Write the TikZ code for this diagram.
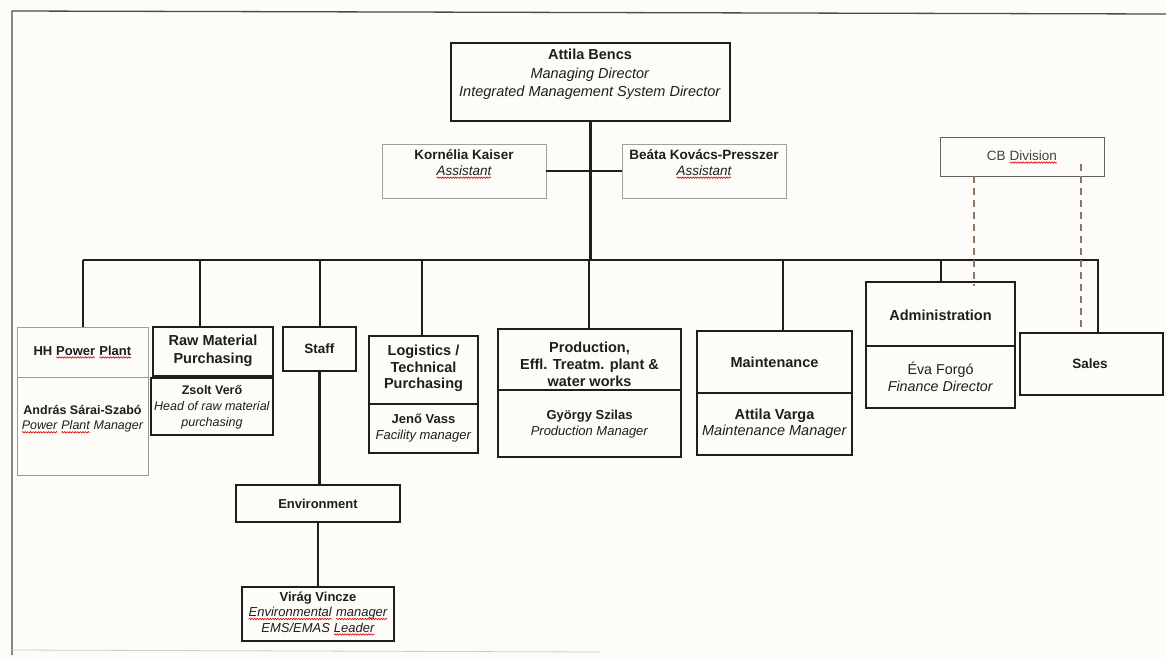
\documentclass[tikz,border=0pt]{standalone}
\usepackage{fontspec}
\setmainfont{Liberation Sans}
\usetikzlibrary{decorations.pathmorphing}
\definecolor{paper}{HTML}{FDFCF8}
\definecolor{ink}{HTML}{1E1E1E}
\definecolor{faint}{HTML}{A0A0A0}
\definecolor{dashc}{HTML}{8C7866}
\newcommand\fz[2]{\fontsize{#1}{#2}\selectfont}
\newcommand\sq[1]{\tikz[baseline=(sqw.base)]{\node[inner sep=0pt,outer sep=0pt](sqw){#1};\draw[red!85!black,line width=0.6pt,decorate,decoration={snake,amplitude=0.7pt,segment length=2.6pt}]([yshift=-2.4pt]sqw.base west)--([yshift=-2.4pt]sqw.base east);}}
\tikzset{
  box/.style={draw=ink, line width=1.5pt, fill=paper, inner sep=0pt, rectangle},
  lbox/.style={draw=faint, line width=0.9pt, fill=paper, inner sep=0pt, rectangle},
  txt/.style={align=center, inner sep=0pt, text=ink},
  link/.style={draw=ink, line width=2.6pt},
  dlink/.style={draw=dashc, line width=2.4pt, dash pattern=on 7pt off 5pt},
}
\begin{document}
\begin{tikzpicture}[x=1pt,y=-1pt]
\useasboundingbox (0,0) rectangle (1166,662);
\fill[paper] (0,0) rectangle (1166,662);
% frame
\draw[ink!80,line width=1.3pt] (1166,14) -- (12,11) -- (12,655);
\draw[black!20,line width=0.8pt] (12,650) -- (600,652);

% boxes
\node[box, minimum width=279pt, minimum height=78pt] (top) at (590.5,82) {};
\node[lbox, minimum width=164pt, minimum height=54pt] (kk) at (464,171) {};
\node[lbox, minimum width=164pt, minimum height=54pt] (bk) at (704,171) {};
\node[lbox, draw=ink!70, minimum width=164pt, minimum height=39pt] (cb) at (1022,156.5) {};

\node[lbox, minimum width=131pt, minimum height=50pt] (hhH) at (82.5,352) {};
\node[lbox, draw=ink!45, minimum width=131pt, minimum height=98pt] (hhS) at (82.5,426) {};
\node[box, minimum width=120pt, minimum height=49pt] (rawH) at (213,351.5) {};
\node[box, minimum width=122pt, minimum height=57pt] (rawS) at (212,406.5) {};
\node[box, minimum width=73pt, minimum height=44pt] (staff) at (319.5,349) {};
\node[box, minimum width=164pt, minimum height=37pt] (env) at (318,503.5) {};
\node[box, minimum width=152pt, minimum height=54pt] (vir) at (318,614) {};
\node[box, minimum width=109pt, minimum height=68pt] (logH) at (423.5,370) {};
\node[box, minimum width=109pt, minimum height=49pt] (logS) at (423.5,428.5) {};
\node[box, minimum width=183pt, minimum height=61pt] (prodH) at (589.5,359.5) {};
\node[box, minimum width=183pt, minimum height=67pt] (prodS) at (589.5,423.5) {};
\node[box, minimum width=155pt, minimum height=62pt] (mntH) at (774.5,362) {};
\node[box, minimum width=155pt, minimum height=62pt] (mntS) at (774.5,424) {};
\node[box, minimum width=149pt, minimum height=64pt] (admH) at (940.5,314) {};
\node[box, minimum width=149pt, minimum height=62pt] (admS) at (940.5,377) {};
\node[box, minimum width=143pt, minimum height=62pt] (sales) at (1091.5,364) {};

% texts
\node[txt, font=\fz{14.5}{18.5}] (tTop) at (590,74.5) {\textbf{Attila Bencs}\\ \textit{Managing Director}\\ \textit{Integrated Management System Director}};
\node[txt, font=\fz{13.5}{16}] (tKK) at (464,164) {\textbf{Kornélia Kaiser}\\ \textit{\sq{Assistant}}};
\node[txt, font=\fz{13.5}{16}] (tBK) at (704,164) {\textbf{Beáta Kovács-Presszer}\\ \textit{\sq{Assistant}}};
\node[txt, font=\fz{13.5}{16}, text=ink!85] (tCB) at (1022,157) {CB \sq{Division}};
\node[txt, font=\fz{13}{16}] (tHHH) at (82.5,352) {\textbf{HH \sq{Power} \sq{Plant}}};
\node[txt, font=\fz{12.5}{15}] (tHHS) at (82.5,419.5) {\textbf{András Sárai-Szabó}\\ \textit{\sq{Power} \sq{Plant} Manager}};
\node[txt, font=\fz{14.5}{18}] (tRawH) at (213,351) {\textbf{Raw Material}\\ \textbf{Purchasing}};
\node[txt, font=\fz{12.5}{16}] (tRawS) at (212,407) {\textbf{Zsolt Verő}\\ \textit{Head of raw material}\\ \textit{purchasing}};
\node[txt, font=\fz{13.5}{16}] (tStaff) at (319.5,349) {\textbf{Staff}};
\node[txt, font=\fz{13}{16}] (tEnv) at (318,503.5) {\textbf{Environment}};
\node[txt, font=\fz{13}{15.5}] (tVir) at (318,613.5) {\textbf{Virág Vincze}\\ \textit{\sq{Environmental} \sq{manager}}\\ \textit{EMS/EMAS \sq{Leader}}};
\node[txt, font=\fz{14.5}{16.5}] (tLogH) at (423.5,368.5) {\textbf{Logistics /}\\ \textbf{Technical}\\ \textbf{Purchasing}};
\node[txt, font=\fz{13}{16}] (tLogS) at (423.5,428) {\textbf{Jenő Vass}\\ \textit{Facility manager}};
\node[txt, font=\fz{14.5}{17}] (tProdH) at (589.5,364) {\textbf{Production,}\\ \textbf{Effl. Treatm. plant \&}\\ \textbf{water works}};
\node[txt, font=\fz{13}{16}] (tProdS) at (589.5,424) {\textbf{György Szilas}\\ \textit{Production Manager}};
\node[txt, font=\fz{14.5}{16}] (tMntH) at (774.5,362) {\textbf{Maintenance}};
\node[txt, font=\fz{14.5}{16}] (tMntS) at (774.5,424) {\textbf{Attila Varga}\\ \textit{Maintenance Manager}};
\node[txt, font=\fz{14.5}{16}] (tAdmH) at (940.5,315) {\textbf{Administration}};
\node[txt, font=\fz{14.3}{17}] (tAdmS) at (940.5,376.5) {Éva Forgó\\ \textit{Finance Director}};
\node[txt, font=\fz{13.5}{16}] (tSales) at (1090,364) {\textbf{Sales}};

% connectors
\coordinate (busL) at (83,260);
\coordinate (busR) at (1098,260);
\draw[link] (top.south) -- (top.south |- busL);
\draw[link] (kk.east) -- (bk.west);
\draw[link] (busL) -- (busR) -- (busR |- sales.north);
\draw[link] (busL) -- (busL |- hhH.north);
\draw[link] (200,260) -- (200,0 |- rawH.north);
\draw[link] (320,260) -- (320,0 |- staff.north);
\draw[link] (422,260) -- (422,0 |- logH.north);
\draw[link] (589,260) -- (589,0 |- prodH.north);
\draw[link] (783,260) -- (783,0 |- mntH.north);
\draw[link] (941,260) -- (941,0 |- admH.north);
\draw[link] (staff.south) -- (staff.south |- env.north);
\draw[link] (env.south) -- (env.south |- vir.north);
\draw[dlink] (cb.south -| 974,0) -- ([yshift=-5pt]admH.north -| 974,0);
\draw[dlink] ([yshift=12pt]cb.south -| 1081,0) -- (sales.north -| 1081,0);
\end{tikzpicture}
\end{document}
